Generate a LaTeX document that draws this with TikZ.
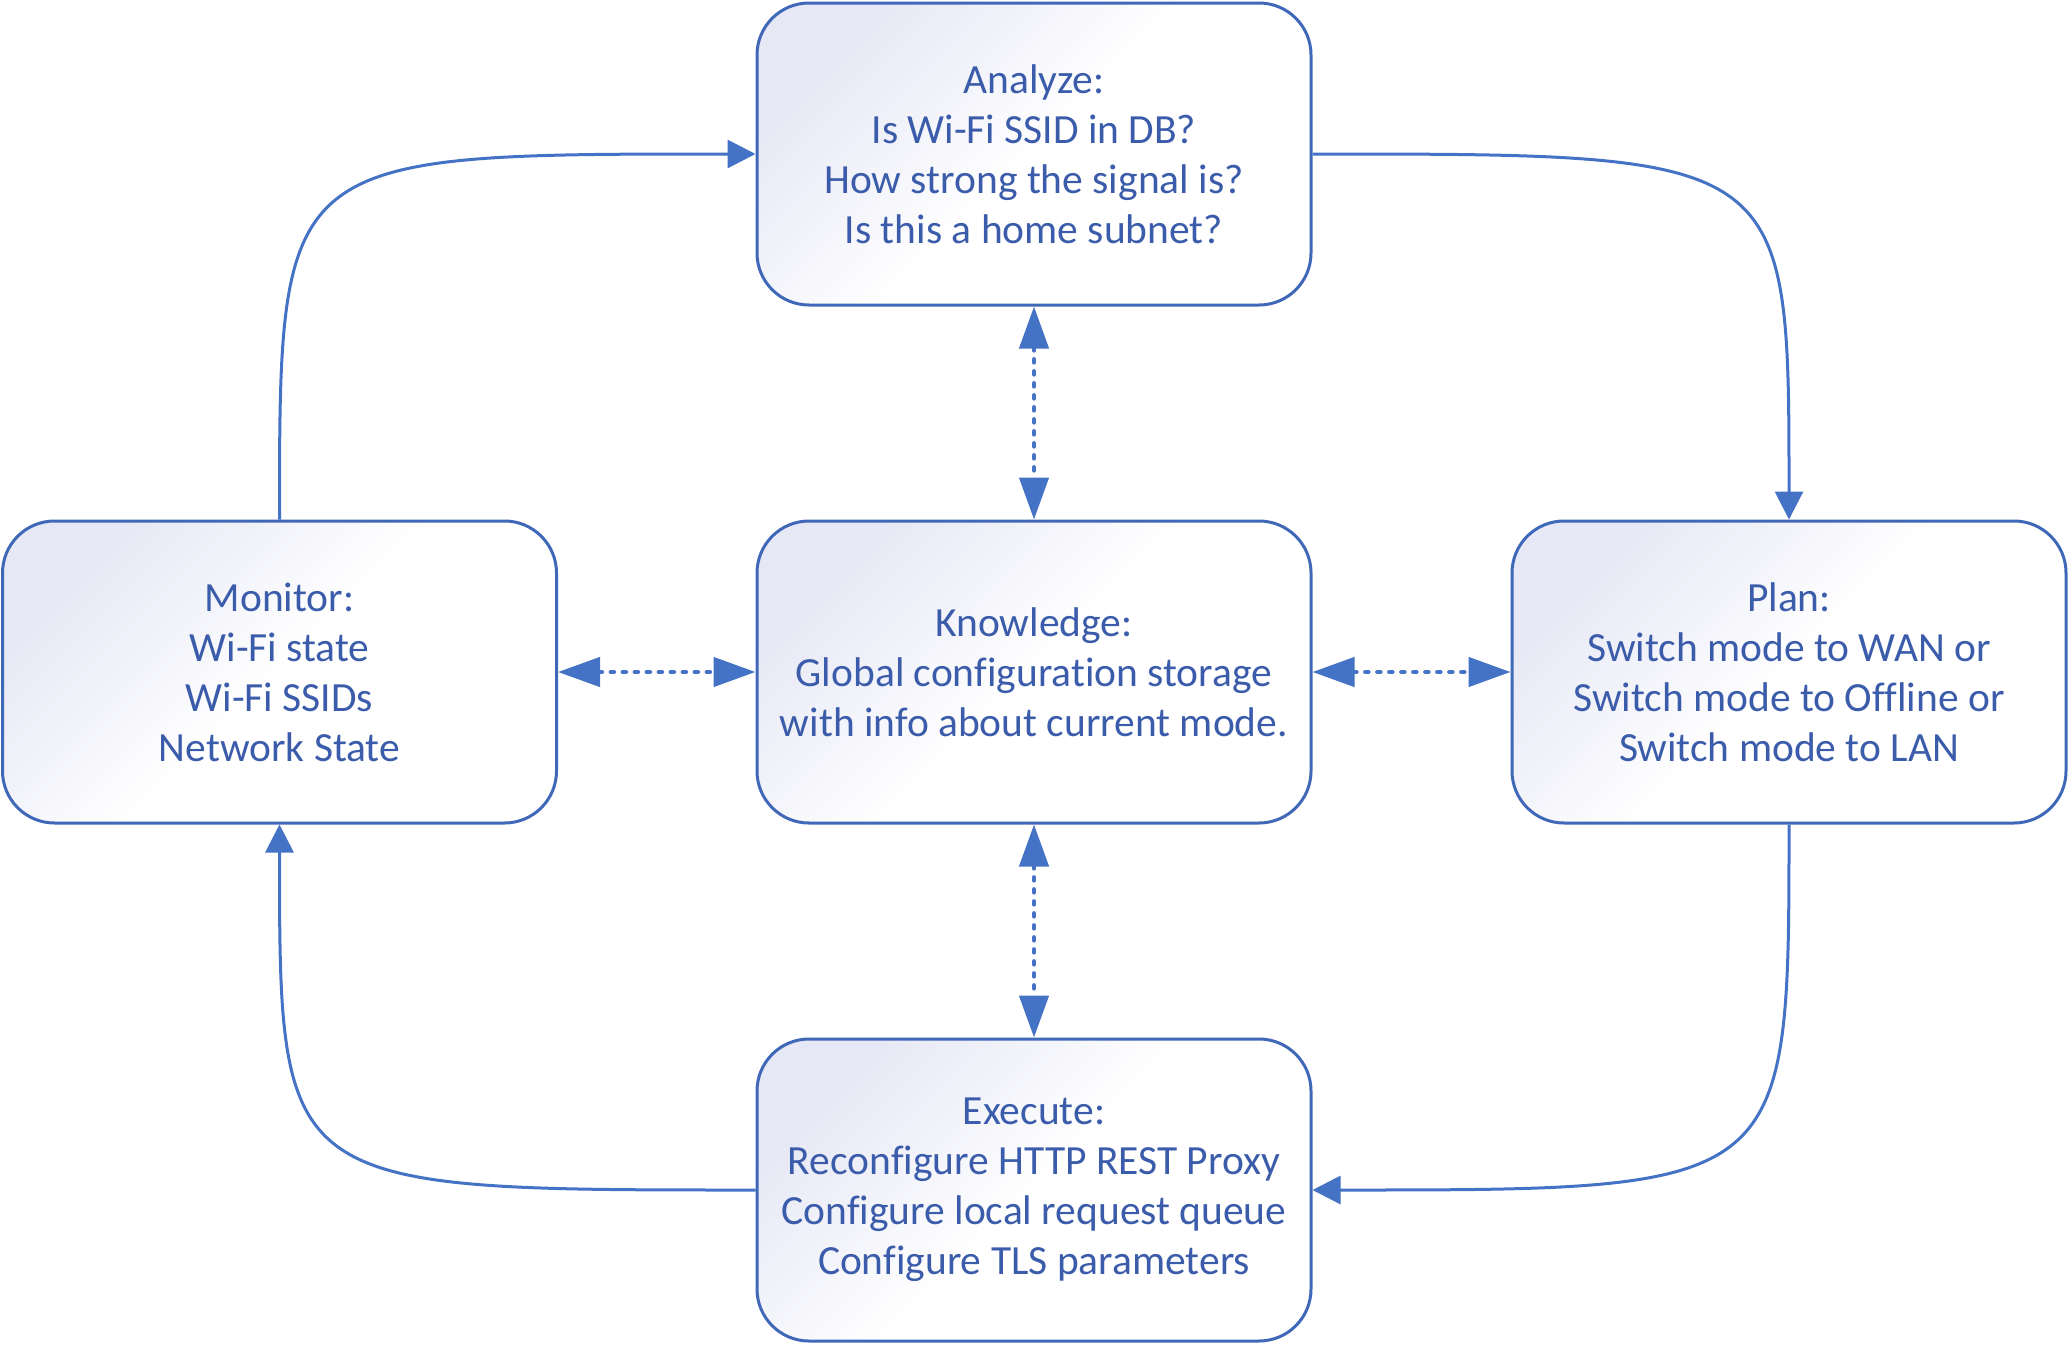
\documentclass[tikz,border=0pt]{standalone}
\usepackage{fontspec}
\setmainfont{Carlito}[Ligatures=NoCommon]
\usetikzlibrary{arrows.meta}
\definecolor{ln}{HTML}{4472C4}
\definecolor{bd}{HTML}{4068B8}
\definecolor{tx}{HTML}{3B5CAA}
\definecolor{lav}{HTML}{E6E8F5}
\begin{document}
\begin{tikzpicture}[x=1pt,y=-1pt,
  box/.style={draw=bd, line width=3pt, rounded corners=52pt,
    minimum width=554pt, minimum height=302pt,
    top color=lav, bottom color=white, middle color=white, shading angle=45,
    text=tx, font=\fontsize{41.5}{50}\selectfont, align=center, inner sep=0pt},
  flow/.style={ln, line width=3pt, -{Triangle[length=28pt,width=28pt]}},
  link/.style={ln, line width=4.5pt, line cap=round, dash pattern=on 3pt off 9pt,
    {Triangle[length=42pt,width=29pt]}-{Triangle[length=42pt,width=29pt]}}
]
\useasboundingbox (0,0) rectangle (2069,1344);

\node[box] (A) at (1034,154) {Analyze:\\Is Wi-Fi SSID in DB?\\How strong the signal is?\\Is this a home subnet?};
\node[box] (M) at (279.5,672) {Monitor:\\Wi-Fi state\\Wi-Fi SSIDs\\Network State};
\node[box] (K) at (1034,672) {Knowledge:\\Global configuration storage\\with info about current mode.};
\node[box] (P) at (1789,672) {Plan:\\Switch mode to WAN or\\Switch mode to Offline or\\Switch mode to LAN};
\node[box] (E) at (1034,1190) {Execute:\\Reconfigure HTTP REST Proxy\\Configure local request queue\\Configure TLS parameters};

\draw[flow] (M.north) .. controls (279.5,154) and (279.5,154) .. (A.west);
\draw[flow] (A.east) .. controls (1789,154) and (1789,154) .. (P.north);
\draw[flow] (P.south) .. controls (1789,1190) and (1789,1190) .. (E.east);
\draw[flow] (E.west) .. controls (279.5,1190) and (279.5,1190) .. (M.south);

\draw[link] (A.south) -- (K.north);
\draw[link] (K.south) -- (E.north);
\draw[link] (M.east) -- (K.west);
\draw[link] (K.east) -- (P.west);
\end{tikzpicture}
\end{document}
